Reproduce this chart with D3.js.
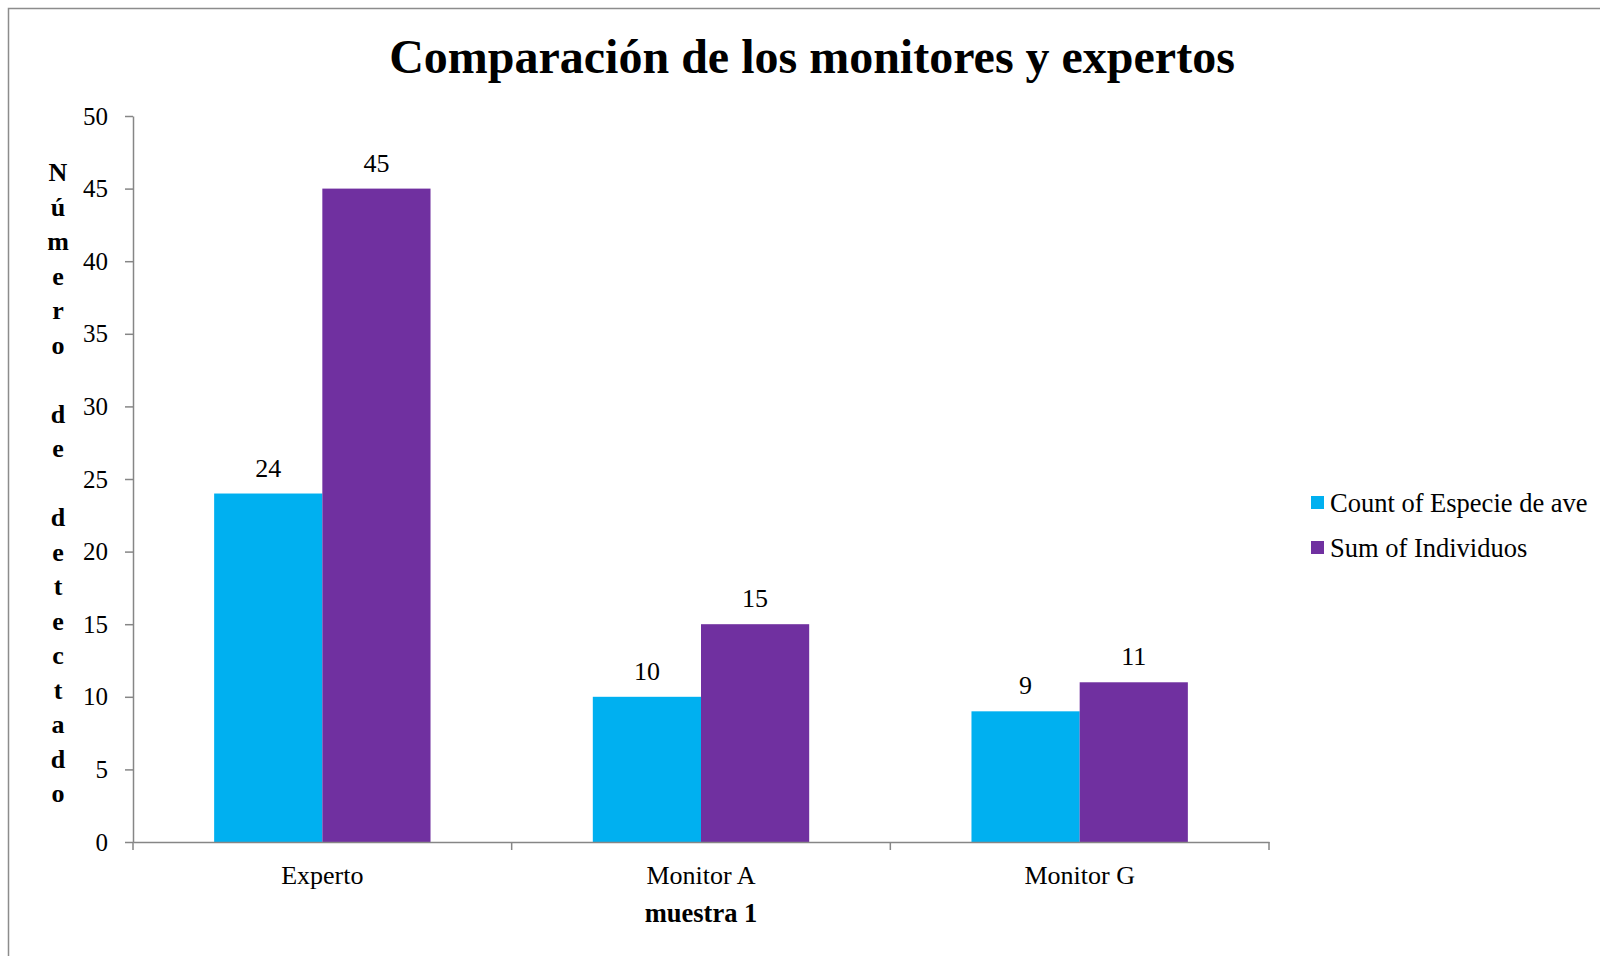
<!DOCTYPE html>
<html>
<head>
<meta charset="utf-8">
<script src="https://cdn.jsdelivr.net/npm/d3@7"></script>
<style>
  html, body { margin: 0; padding: 0; background: #fff; }
  svg { display: block; font-family: "Liberation Serif", "Times New Roman", serif; }
</style>
</head>
<body>
<script>
const width = 1600;
const height = 956;

// data
const categories = ["Experto", "Monitor A", "Monitor G"];
const seriesNames = ["Count of Especie de ave", "Sum of Individuos"];
const countEspecie = [24, 10, 9];
const sumIndividuos = [45, 15, 11];
const yTicks = [0, 5, 10, 15, 20, 25, 30, 35, 40, 45, 50];
const yTitle = "Número de detectado";

const colors = ["#00b0f0", "#7030a0"];
const seriesValues = [countEspecie, sumIndividuos];

const plot = { left: 133, right: 1269, top: 116, bottom: 842 };

let svg = d3.select("body")
  .append("svg")
    .attr("width", width)
    .attr("height", height);

// chart border (runs off the right and bottom edges)
svg.append("rect")
  .attr("x", 8.5)
  .attr("y", 8.5)
  .attr("width", 1700)
  .attr("height", 1100)
  .attr("fill", "none")
  .attr("stroke", "#8c8c8c")
  .attr("stroke-width", 1.5);

let y = d3.scaleLinear()
  .domain([0, 50])
  .range([plot.bottom, plot.top]);

let x0 = d3.scaleBand()
  .domain(categories)
  .range([plot.left, plot.right])
  .padding(0);

let x1 = d3.scaleBand()
  .domain(seriesNames)
  .range([0, x0.bandwidth()])
  .paddingInner(0)
  .paddingOuter(0.75);

let rows = categories.map(function(c, i) {
  return seriesNames.map(function(s, j) {
    return { cat: c, series: s, value: seriesValues[j][i], idx: j };
  });
});

// bars
let groups = svg.selectAll("g.cat")
  .data(rows)
  .enter()
  .append("g")
    .attr("class", "cat")
    .attr("transform", function(d, i) { return "translate(" + x0(categories[i]) + ",0)"; });

groups.selectAll("rect")
  .data(function(d) { return d; })
  .enter()
  .append("rect")
    .attr("x", function(d) { return x1(d.series); })
    .attr("y", function(d) { return y(d.value); })
    .attr("width", x1.bandwidth())
    .attr("height", function(d) { return y(0) - y(d.value); })
    .attr("fill", function(d) { return colors[d.idx]; });

groups.selectAll("text")
  .data(function(d) { return d; })
  .enter()
  .append("text")
    .attr("x", function(d) { return x1(d.series) + x1.bandwidth() / 2; })
    .attr("y", function(d) { return y(d.value) - 17; })
    .attr("text-anchor", "middle")
    .style("font-size", "26px")
    .attr("fill", "#000")
    .text(function(d) { return d.value; });

// y axis
let yAxis = svg.append("g")
  .attr("transform", "translate(" + plot.left + ",0)")
  .call(d3.axisLeft(y).tickValues(yTicks).tickSize(8).tickSizeOuter(0).tickPadding(17));

yAxis.selectAll("text")
  .style("font-size", "25px")
  .style("font-family", "Liberation Serif, Times New Roman, serif")
  .attr("fill", "#000");

// x axis
let xAxis = svg.append("g")
  .attr("transform", "translate(0," + plot.bottom + ")")
  .call(d3.axisBottom(x0).tickSize(0).tickSizeOuter(0).tickPadding(24));

xAxis.selectAll("text")
  .style("font-size", "26px")
  .style("font-family", "Liberation Serif, Times New Roman, serif")
  .attr("fill", "#000");

// category separators on x axis
let boundaries = categories.map(function(c) { return x0(c); }).concat([plot.right]);
xAxis.selectAll("line.sep")
  .data(boundaries)
  .enter()
  .append("line")
    .attr("class", "sep")
    .attr("x1", function(d) { return d; })
    .attr("x2", function(d) { return d; })
    .attr("y1", 0)
    .attr("y2", 8);

svg.selectAll(".domain, .tick line, line.sep")
  .attr("stroke", "#868686")
  .attr("stroke-width", 1.5);

// title
svg.append("text")
  .attr("x", 812)
  .attr("y", 73)
  .attr("text-anchor", "middle")
  .style("font-size", "48px")
  .style("font-weight", "bold")
  .text("Comparación de los monitores y expertos");

// x axis title
svg.append("text")
  .attr("x", (plot.left + plot.right) / 2)
  .attr("y", 922)
  .attr("text-anchor", "middle")
  .style("font-size", "26.5px")
  .style("font-weight", "bold")
  .text("muestra 1");

// y axis title, stacked letters
svg.append("g")
  .selectAll("text")
  .data(yTitle.split(""))
  .enter()
  .append("text")
    .attr("x", 58)
    .attr("y", function(d, i) { return 181 + i * 34.5; })
    .attr("text-anchor", "middle")
    .style("font-size", "26px")
    .style("font-weight", "bold")
    .text(function(d) { return d; });

// legend
let legend = svg.append("g")
  .selectAll("g")
  .data(seriesNames)
  .enter()
  .append("g")
    .attr("transform", function(d, i) { return "translate(1311," + (503 + i * 45) + ")"; });

legend.append("rect")
  .attr("x", 0)
  .attr("y", -7)
  .attr("width", 13)
  .attr("height", 13)
  .attr("fill", function(d, i) { return colors[i]; });

legend.append("text")
  .attr("x", 19)
  .attr("y", 9)
  .style("font-size", "26.5px")
  .text(function(d) { return d; });
</script>
</body>
</html>
